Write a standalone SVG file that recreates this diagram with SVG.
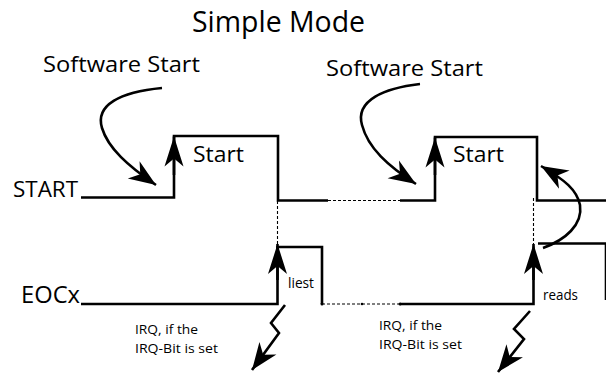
<svg xmlns="http://www.w3.org/2000/svg" width="606" height="374" viewBox="0 0 606 374">
  <style>
    text { font-family: "Open Sans", "Noto Sans", "Liberation Sans", sans-serif; fill: #000; }
    .sig { fill: none; stroke: #000; stroke-width: 2.6; stroke-linejoin: miter; }
    .dash { fill: none; stroke: #000; stroke-width: 1.1; stroke-dasharray: 3 2; }
    .arr { fill: none; stroke: #000; stroke-width: 2.6; }
    .big { font-size: 22px; }
    .small { font-size: 13px; }
  </style>
  <defs>
    <!-- barbed arrowhead for the vertical edges -->
    <marker id="headUp" markerUnits="userSpaceOnUse" viewBox="-30 -10 30 20" refX="0" refY="0" markerWidth="30" markerHeight="20" orient="auto">
      <path d="M0,0 L-30,-9.5 L-22,0 L-30,9.5 Z" fill="#000"/>
    </marker>
    <!-- barbed arrowhead for curved and zigzag arrows -->
    <marker id="headCurve" markerUnits="userSpaceOnUse" viewBox="-28 -11 28 22" refX="0" refY="0" markerWidth="28" markerHeight="22" orient="auto">
      <path d="M0,0 L-27,-10.5 L-19,0 L-27,10.5 Z" fill="#000"/>
    </marker>
  </defs>

  <g id="title">
    <text x="192" y="32" font-size="29" textLength="173" lengthAdjust="spacingAndGlyphs">Simple Mode</text>
  </g>

  <g id="start-signal">
    <text class="big" x="13" y="197" textLength="65" lengthAdjust="spacingAndGlyphs">START</text>
    <path class="sig" d="M81,197.5 H174 V136 H278 V200.5 H328"/>
    <path class="dash" d="M328,200.5 H400"/>
    <path class="sig" d="M400,200.5 H435 V137 H537 V200.5 H606"/>
    <text class="big" x="193" y="162" textLength="51" lengthAdjust="spacingAndGlyphs">Start</text>
    <text class="big" x="453" y="162" textLength="51" lengthAdjust="spacingAndGlyphs">Start</text>
  </g>

  <g id="eoc-signal">
    <text x="21" y="303" font-size="23" textLength="59" lengthAdjust="spacingAndGlyphs">EOCx</text>
    <path class="sig" d="M81,304 H277.5 V247 H322 V304"/>
    <path class="dash" d="M322,304 H400"/>
    <path class="sig" d="M400,304 H533.5 V250"/>
    <path class="sig" d="M538,243.5 H606"/>
    <line x1="606" y1="243" x2="606" y2="300" stroke="#000" stroke-width="2.6"/>
    <circle cx="322" cy="304" r="1.5"/>
    <circle cx="362" cy="304" r="1.3"/>
    <circle cx="400" cy="304" r="1.5"/>
    <text x="288" y="288" font-size="14" textLength="26" lengthAdjust="spacingAndGlyphs">liest</text>
    <text x="543" y="300" font-size="14" textLength="35" lengthAdjust="spacingAndGlyphs">reads</text>
  </g>

  <g id="sync-lines">
    <path class="dash" d="M277.5,201 V244"/>
    <path class="dash" d="M533.5,198 V244"/>
  </g>

  <g id="labels">
    <text x="43" y="72" class="big" textLength="157" lengthAdjust="spacingAndGlyphs">Software Start</text>
    <text x="326" y="76" class="big" textLength="157" lengthAdjust="spacingAndGlyphs">Software Start</text>
    <text class="small" x="135" y="334" textLength="63" lengthAdjust="spacingAndGlyphs">IRQ, if the</text>
    <text class="small" x="135" y="353" textLength="83" lengthAdjust="spacingAndGlyphs">IRQ-Bit is set</text>
    <text class="small" x="379" y="330" textLength="63" lengthAdjust="spacingAndGlyphs">IRQ, if the</text>
    <text class="small" x="379" y="349" textLength="83" lengthAdjust="spacingAndGlyphs">IRQ-Bit is set</text>
  </g>

  <g id="connectors">
    <!-- rising-edge arrows -->
    <path class="arr" d="M174,175 V136.5" marker-end="url(#headUp)"/>
    <path class="arr" d="M435,175 V137.5" marker-end="url(#headUp)"/>
    <path class="arr" d="M277.5,280 V244" marker-end="url(#headUp)"/>
    <path class="arr" d="M533.5,280 V244" marker-end="url(#headUp)"/>
    <!-- software start triggers -->
    <path class="arr" d="M162,88 C120,92 95,105 102,128 C108,148 128,166 156,185" marker-end="url(#headCurve)"/>
    <path class="arr" d="M420,84 C385,88 355,100 362,125 C368,148 388,166 416,184" marker-end="url(#headCurve)"/>
    <!-- read restarts conversion -->
    <path class="arr" d="M543,248 C565,240 583,225 580,205 C577,190 565,180 541,166" marker-end="url(#headCurve)"/>
    <!-- interrupt requests -->
    <path class="arr" d="M285,305 L271,323 L279,333 L252,370" marker-end="url(#headCurve)" stroke-linejoin="miter"/>
    <path class="arr" d="M530,311 L514,329 L524,339 L498,372" marker-end="url(#headCurve)" stroke-linejoin="miter"/>
  </g>
</svg>
